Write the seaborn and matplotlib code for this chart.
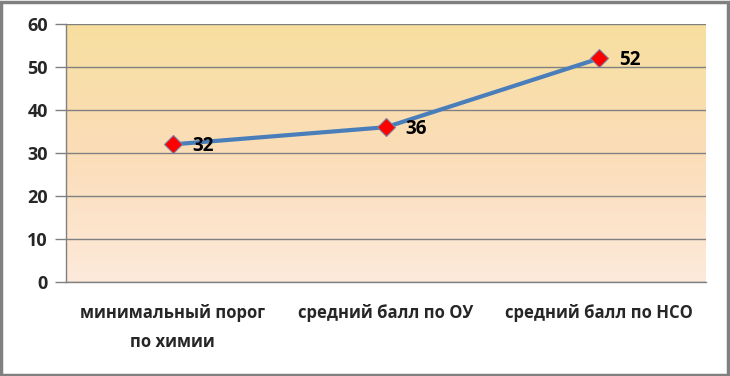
import numpy as np
import pandas as pd
import seaborn as sns
import matplotlib.pyplot as plt
from matplotlib.colors import LinearSegmentedColormap
from matplotlib.patches import Rectangle

categories = ['минимальный порог\nпо химии', 'средний балл по ОУ', 'средний балл по НСО']
scores = [32, 36, 52]
y_ticks = [0, 10, 20, 30, 40, 50, 60]

sns.set_style('white')
plt.rcParams['font.family'] = ['Open Sans', 'DejaVu Sans']

df = pd.DataFrame({'pos': range(len(categories)), 'score': scores})

fig = plt.figure(figsize=(7.3, 3.76), dpi=100)
ax = fig.add_axes([66 / 730, 1 - 282 / 376, 640 / 730, 258 / 376])

# gradient background of plot area
grad = LinearSegmentedColormap.from_list('bg', ['#FDEADB', '#FBDDB8', '#F7DF9F'])
ax.imshow(np.linspace(0, 1, 256).reshape(-1, 1), cmap=grad, aspect='auto',
          extent=[0, 1, 0, 1], transform=ax.transAxes, origin='lower', zorder=0)

sns.lineplot(data=df, x='pos', y='score', ax=ax, color='#4A7EBB', linewidth=3,
             marker='D', markersize=9, markerfacecolor='#FF0000',
             markeredgecolor='#7F7F9F', markeredgewidth=0.8, zorder=3)

for p, v in zip(df['pos'], df['score']):
    ax.annotate(str(v), (p, v), xytext=(14, -1), textcoords='offset points',
                ha='left', va='center', fontsize=13.5, fontweight='bold', color='black')

ax.set_xlim(-0.5, len(categories) - 0.5)
ax.set_ylim(0, 60)
ax.set_yticks(y_ticks)
ax.set_yticklabels([str(t) for t in y_ticks], fontsize=13, fontweight='bold')
ax.set_xticks(df['pos'])
ax.set_xticklabels(categories, fontsize=12, fontweight='bold', linespacing=1.75)
ax.set_xticks(np.arange(-0.5, len(categories), 1), minor=True)
ax.tick_params(axis='x', which='major', length=0, pad=16)
ax.tick_params(axis='x', which='minor', length=7, width=1, color='#808080', direction='out')
ax.tick_params(axis='y', length=8, width=1, color='#808080', direction='out', left=True, pad=5)
ax.set_xlabel('')
ax.set_ylabel('')

ax.grid(axis='y', color='#808080', linewidth=1)
ax.set_axisbelow(True)
for s in ['top', 'right']:
    ax.spines[s].set_visible(False)
for s in ['left', 'bottom']:
    ax.spines[s].set_color('#808080')
    ax.spines[s].set_linewidth(1)
    ax.spines[s].set_zorder(2)

# outer frame
fig.patches.append(Rectangle((0.002, 0.003), 0.995, 0.993, transform=fig.transFigure,
                             fill=False, edgecolor='#808080', linewidth=2.5))

fig.savefig('out.png', dpi=100)
